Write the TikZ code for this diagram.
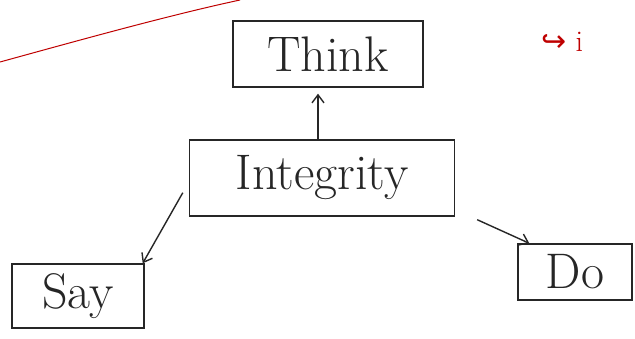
\documentclass[tikz,border=0pt]{standalone}
\usepackage{fontspec}
\newfontfamily\arrowfont{DejaVu Sans}
\usetikzlibrary{arrows.meta}
\begin{document}
\begin{tikzpicture}[x=1pt,y=-1pt,
  word/.style={draw=black!85, line width=1.4pt, inner sep=0pt, font=\fontsize{50}{54}\selectfont, text=black!85},
  conn/.style={draw=black!85, line width=1.4pt, -{Straight Barb[length=8pt,width=12pt]}}]
\useasboundingbox[fill=white] (0,0) rectangle (635,338);
\draw[red!75!black, line width=1pt] (0,62) .. controls (80,40) and (170,15) .. (240,0);
\node[red!75!black, anchor=west, font=\fontsize{30}{32}\selectfont] (note) at (538,42) {{\arrowfont ↪}\ i};
\node[word, minimum width=190pt, minimum height=66pt] (think) at (328,54) {Think};
\node[word, minimum width=265pt, minimum height=76pt] (integ) at (322,178) {Integrity};
\node[word, minimum width=132pt, minimum height=64pt] (say) at (78,296) {Say};
\node[word, minimum width=114pt, minimum height=56pt] (do) at (575,272) {Do};
\draw[conn] ([xshift=-4pt]integ.north) -- ([xshift=-10pt,yshift=-6pt]think.south);
\draw[conn] ([xshift=-6pt,yshift=24pt]integ.south west) -- ([xshift=-2pt]say.north east);
\draw[conn] ([xshift=22pt,yshift=-3pt]integ.south east) -- ([xshift=12pt]do.north west);
\end{tikzpicture}
\end{document}
